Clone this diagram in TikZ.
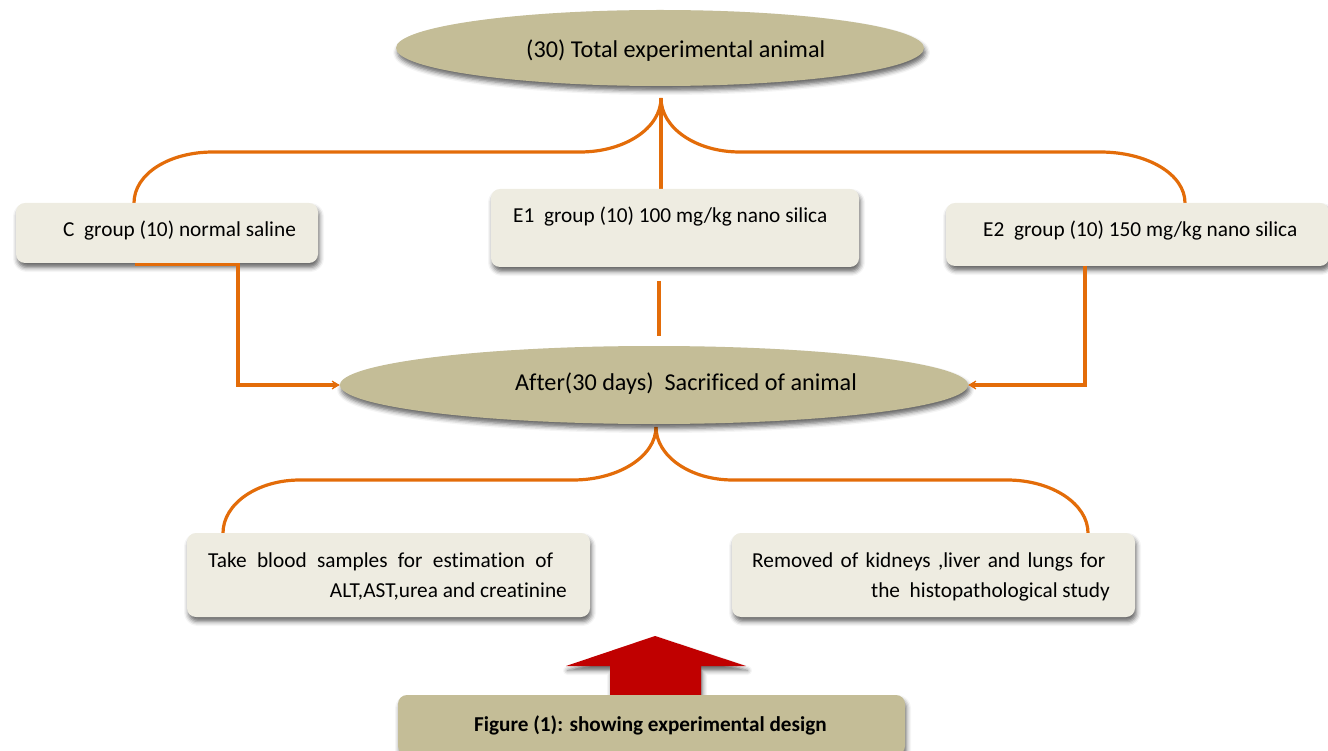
\documentclass[tikz,border=0pt]{standalone}
\usepackage{fontspec}
\setmainfont{Carlito}[Ligatures={NoCommon}]
\usetikzlibrary{shapes.geometric,shadows.blur,arrows.meta,backgrounds}
\definecolor{tanfill}{HTML}{C4BD97}
\definecolor{boxfill}{HTML}{EEECE1}
\definecolor{orng}{HTML}{E36C09}
\definecolor{darkred}{HTML}{C00000}
\begin{document}
\begin{tikzpicture}[x=1pt,y=-1pt,
  sh/.style={blur shadow={shadow xshift=1.5pt,shadow yshift=-4.5pt,shadow blur radius=4.5pt,shadow opacity=60}},
  oval/.style={ellipse,fill=tanfill,draw=none,sh,inner sep=0pt},
  card/.style={rectangle,rounded corners=9pt,fill=boxfill,draw=none,sh,inner sep=0pt},
  capbox/.style={rectangle,rounded corners=9pt,fill=tanfill,draw=none,sh,inner sep=0pt},
  conn/.style={draw=orng,line width=3.2pt},
  arr/.style={-{Stealth[length=12pt,width=14pt,inset=8pt]}},
  txt/.style={inner sep=0pt,anchor=base west,font=\fontsize{21.3}{25}\selectfont},
  txtr/.style={inner sep=0pt,anchor=base east,font=\fontsize{21.3}{25}\selectfont},
  bigtxt/.style={inner sep=0pt,anchor=base west,font=\fontsize{24.2}{28}\selectfont},
  captxt/.style={inner sep=0pt,anchor=base west,font=\fontsize{21.2}{25}\selectfont\bfseries}
]
\useasboundingbox (0,0) rectangle (1328,751);

% red arrow (behind caption box)
\fill[darkred,sh] (610,698) -- (610,666) -- (566,666) -- (655,636) -- (746,666) -- (701,666) -- (701,698) -- cycle;

% shapes
\node[oval,minimum width=528pt,minimum height=76pt] (top) at (660,48) {};
\node[oval,minimum width=628pt,minimum height=78pt] (mid) at (654,385) {};
\node[card,minimum width=302pt,minimum height=60pt] (cbox) at (167,233) {};
\node[card,minimum width=368pt,minimum height=78pt] (eone) at (675,228) {};
\node[card,minimum width=383pt,minimum height=63pt] (etwo) at (1137.5,234.5) {};
\node[card,minimum width=403pt,minimum height=84pt] (blood) at (388.5,575) {};
\node[card,minimum width=403pt,minimum height=84pt] (organs) at (933.5,575) {};
\node[capbox,minimum width=507pt,minimum height=60pt] (cap) at (651.5,725) {};

% texts
\node[bigtxt] (ttop) at (526,58) {(30) Total experimental animal};
\node[bigtxt] (tmid) at (515,390) {After(30 days)~~Sacrificed of animal};
\node[txt] (tc) at (63,237) {C~~group (10) normal saline};
\node[txt] (te1) at (513,223) {E1~~group (10) 100 mg/kg nano silica};
\node[txt] (te2) at (983,237) {E2~~group (10) 150 mg/kg nano silica};
\node[txt] (tb1) at (208,567) {\makebox[345pt][s]{Take blood samples for estimation of}};
\node[txtr] (tb2) at (567,597) {ALT,AST,urea and creatinine};
\node[txt] (to1) at (752,567) {\makebox[353pt][s]{Removed of kidneys ,liver and lungs for}};
\node[txtr] (to2) at (1110,597) {the~~histopathological study};
\node[captxt] (tcap) at (474,731) {Figure (1): showing experimental design};

% connector coordinates
\coordinate (tp) at (661,98);
\coordinate (cpt) at (134,203);
\coordinate (e1pt) at (661,189);
\coordinate (e2pt) at (1185,203);
\coordinate (bp) at (656,427);
\coordinate (blpt) at (223,533);
\coordinate (orpt) at (1088,533);

\begin{scope}[on background layer]
% top brace
\draw[conn] (tp) .. controls (661,128) and (625,152) .. (580,152) -- (213,152)
  .. controls (169,152) and (134,174) .. (cpt);
\draw[conn] (tp) .. controls (661,128) and (696,152) .. (740,152) -- (1100,152)
  .. controls (1147,152) and (1185,174) .. (e2pt);
\draw[conn] (tp) -- (e1pt);
% bottom brace
\draw[conn] (bp) .. controls (656,456) and (619,480) .. (573,480) -- (300,480)
  .. controls (257,480) and (223,504) .. (blpt);
\draw[conn] (bp) .. controls (656,456) and (690,480) .. (733,480) -- (1007,480)
  .. controls (1052,480) and (1088,504) .. (orpt);
\end{scope}

% side connectors to the middle ellipse
\draw[conn,arr] (135,264.5) -- (238,264.5) -- (238,385) -- (mid.west);
\draw[conn,arr] (1085,266) -- (1085,385) -- (mid.east);
\draw[conn] (659,281) -- (659,336);
\end{tikzpicture}
\end{document}
